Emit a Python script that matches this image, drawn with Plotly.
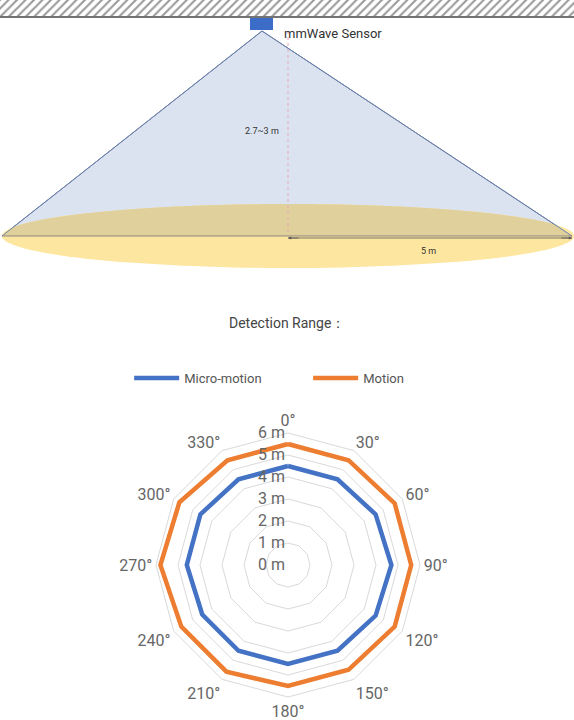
import numpy as np
import plotly.graph_objects as go

# detection range data (meters per direction)
angles = [0, 30, 60, 90, 120, 150, 180, 210, 240, 270, 300, 330]
angle_labels = [f"{a}°" for a in angles]
micro_motion = [4.5, 4.5, 4.6, 4.7, 4.6, 4.5, 4.5, 4.5, 4.5, 4.6, 4.6, 4.5]
motion = [5.5, 5.5, 5.6, 5.6, 5.6, 5.5, 5.5, 5.6, 5.6, 5.8, 5.7, 5.5]
radial_ticks = [0, 1, 2, 3, 4, 5, 6]
radial_labels = [f"{v} m" for v in radial_ticks]

W, H = 574, 720
fig = go.Figure()

# closed loops
th = angle_labels + [angle_labels[0]]
fig.add_trace(go.Scatterpolar(r=micro_motion + [micro_motion[0]], theta=th, mode="lines",
                              name="Micro-motion", line=dict(color="#4472c4", width=4.5)))
fig.add_trace(go.Scatterpolar(r=motion + [motion[0]], theta=th, mode="lines",
                              name="Motion", line=dict(color="#ed7d31", width=4.5)))

# ---- illustration (pixel-like coords on its own axes) ----
ceil_x = [0, 574, 574, 0, 0]
ceil_y = [0, 0, 16, 16, 0]
fig.add_trace(go.Scatter(x=ceil_x, y=ceil_y, xaxis="x", yaxis="y", mode="lines",
                         line=dict(width=0), fill="toself", fillcolor="white",
                         fillpattern=dict(shape="/", fgcolor="#333", size=6, solidity=0.35),
                         showlegend=False, hoverinfo="skip"))

apex = (262, 31)
base_y = 236
cx, rx, ry = 288, 286, 32
shapes = []
# cone
shapes.append(dict(type="path", xref="x", yref="y",
                   path=f"M {apex[0]},{apex[1]} L 2,{base_y} L 572,{base_y} Z",
                   fillcolor="#dce3f0", line=dict(color="#6a7fa8", width=1), layer="below"))
# ellipse floor
shapes.append(dict(type="circle", xref="x", yref="y", x0=cx - rx, x1=cx + rx,
                   y0=base_y - ry, y1=base_y + ry, fillcolor="#fde6a0",
                   line=dict(width=0), layer="below"))
# overlap of cone and upper half-ellipse
xs = np.linspace(cx - rx, cx + rx, 300)
ell_top = base_y - ry * np.sqrt(np.clip(1 - ((xs - cx) / rx) ** 2, 0, 1))
left_line = apex[1] + (base_y - apex[1]) * (apex[0] - xs) / (apex[0] - 2)
right_line = apex[1] + (base_y - apex[1]) * (xs - apex[0]) / (572 - apex[0])
side = np.where(xs < apex[0], left_line, right_line)
top = np.maximum(ell_top, side)
mask = top < base_y
pts = " L ".join(f"{x:.1f},{y:.1f}" for x, y in zip(xs[mask], top[mask]))
shapes.append(dict(type="path", xref="x", yref="y",
                   path=f"M {xs[mask][0]:.1f},{base_y} L {pts} L {xs[mask][-1]:.1f},{base_y} Z",
                   fillcolor="#e0d09c", line=dict(width=0), layer="below"))
# cone edges on top
shapes.append(dict(type="line", xref="x", yref="y", x0=apex[0], y0=apex[1], x1=2, y1=base_y,
                   line=dict(color="#6a7fa8", width=1)))
shapes.append(dict(type="line", xref="x", yref="y", x0=apex[0], y0=apex[1], x1=572, y1=base_y,
                   line=dict(color="#6a7fa8", width=1)))
# ceiling bottom line
shapes.append(dict(type="line", xref="x", yref="y", x0=0, y0=17, x1=574, y1=17,
                   line=dict(color="#444", width=1.5)))
# sensor box
shapes.append(dict(type="rect", xref="x", yref="y", x0=250, y0=18, x1=273, y1=30,
                   fillcolor="#3a6cc8", line=dict(width=0)))
# height line
shapes.append(dict(type="line", xref="x", yref="y", x0=288, y0=31, x1=288, y1=base_y,
                   line=dict(color="#e6a8b8", width=1, dash="dot")))
# diameter + radius arrow
shapes.append(dict(type="line", xref="x", yref="y", x0=2, y0=base_y, x1=572, y1=base_y,
                   line=dict(color="#777", width=0.8)))
shapes.append(dict(type="line", xref="x", yref="y", x0=288, y0=238, x1=572, y1=238,
                   line=dict(color="#555", width=0.8)))

annotations = [
    dict(x=282, y=33, xref="x", yref="y", text="mmWave Sensor", showarrow=False,
         xanchor="left", font=dict(size=13, color="#333")),
    dict(x=262, y=131, xref="x", yref="y", text="2.7~3 m", showarrow=False,
         font=dict(size=9, color="#333")),
    dict(x=428, y=251, xref="x", yref="y", text="5 m", showarrow=False,
         font=dict(size=9, color="#333")),
    dict(x=572, y=238, ax=560, ay=238, xref="x", yref="y", axref="x", ayref="y",
         text="", showarrow=True, arrowhead=2, arrowsize=0.8, arrowwidth=0.8, arrowcolor="#555"),
    dict(x=288, y=238, ax=300, ay=238, xref="x", yref="y", axref="x", ayref="y",
         text="", showarrow=True, arrowhead=2, arrowsize=0.8, arrowwidth=0.8, arrowcolor="#555"),
    dict(x=0.5, y=1 - 323 / H, xref="paper", yref="paper", text="Detection Range：",
         showarrow=False, font=dict(size=14, color="#444")),
]

fig.update_layout(
    width=W, height=H, margin=dict(l=0, r=0, t=0, b=0),
    paper_bgcolor="white", plot_bgcolor="white",
    font=dict(family="Roboto, Noto Sans, sans-serif"),
    xaxis=dict(range=[0, 574], domain=[0, 1], visible=False, fixedrange=True),
    yaxis=dict(range=[270, 0], domain=[1 - 270 / H, 1], visible=False, fixedrange=True),
    shapes=shapes, annotations=annotations,
    legend=dict(orientation="h", x=0.225, xanchor="left", y=1 - 378 / H, yanchor="middle",
                font=dict(size=13, color="#555"), itemwidth=45, entrywidth=119),
    polar=dict(
        domain=dict(x=[156 / W, 420 / W], y=[23 / H, 287 / H]),
        gridshape="linear", bgcolor="white",
        angularaxis=dict(type="category", rotation=90, direction="clockwise",
                         categoryarray=angle_labels, showline=True, linecolor="#d9d9d9",
                         gridcolor="rgba(0,0,0,0)", ticks="",
                         tickfont=dict(size=16, color="#666")),
        radialaxis=dict(range=[0, 6], tickvals=radial_ticks, ticktext=radial_labels,
                        angle=90, tickangle=90, showline=False, ticks="",
                        gridcolor="#d9d9d9", side="counterclockwise",
                        tickfont=dict(size=16, color="#666")),
    ),
)

fig.write_html("out.html", config=dict(displayModeBar=False))
with open("out.html", "r", encoding="utf-8") as f:
    html = f.read()
html = html.replace("<head>", "<head><style>body{margin:0;}</style>", 1)
with open("out.html", "w", encoding="utf-8") as f:
    f.write(html)
